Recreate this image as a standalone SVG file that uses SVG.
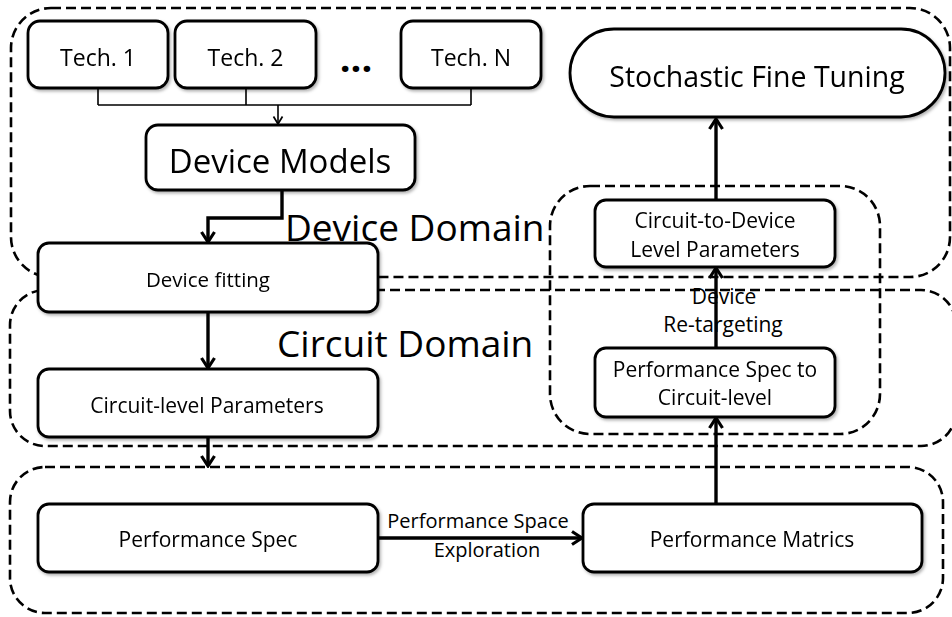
<svg xmlns="http://www.w3.org/2000/svg" width="952" height="617" viewBox="0 0 952 617">
  <style>
    .domain { fill: none; stroke: #000; stroke-width: 2.6; stroke-dasharray: 10 5; }
    .box { fill: #fff; stroke: #000; stroke-width: 2.8; }
    .t { font-family: "Open Sans", "Liberation Sans", sans-serif; fill: #000; text-anchor: middle; }
    .big { font-family: "Open Sans", "Liberation Sans", sans-serif; fill: #000; font-size: 37px; }
    .wire { fill: none; stroke: #000; stroke-width: 1.6; }
    .flow { fill: none; stroke: #000; stroke-width: 3.4; marker-end: url(#head); }
  </style>
  <defs>
    <filter id="shadow" x="-10%" y="-10%" width="125%" height="130%">
      <feDropShadow dx="1.5" dy="2" stdDeviation="1.4" flood-color="#000" flood-opacity="0.3"/>
    </filter>
    <marker id="head" viewBox="0 0 14 16" refX="12" refY="8" markerWidth="14" markerHeight="16" markerUnits="userSpaceOnUse" orient="auto">
      <path d="M2,1.5 L12,8 L2,14.5" fill="none" stroke="#000" stroke-width="3.2" stroke-linejoin="miter"/>
    </marker>
    <marker id="headSmall" viewBox="0 0 10 12" refX="9" refY="6" markerWidth="10" markerHeight="12" markerUnits="userSpaceOnUse" orient="auto">
      <path d="M1.5,1.5 L9,6 L1.5,10.5" fill="none" stroke="#000" stroke-width="1.7"/>
    </marker>
  </defs>

  <rect width="952" height="617" fill="#fff"/>

  <!-- domain frames -->
  <g id="domains">
    <rect class="domain" x="11" y="8" width="939" height="269" rx="40"/>
    <rect class="domain" x="10" y="290" width="946" height="156" rx="35"/>
    <rect class="domain" x="10" y="467" width="933" height="146" rx="35"/>
    <rect class="domain" x="550" y="186" width="330" height="248" rx="40"/>
  </g>

  <!-- domain titles -->
  <text class="big" x="285" y="241">Device Domain</text>
  <text class="big" x="277" y="357">Circuit Domain</text>

  <!-- connectors -->
  <g id="connectors">
    <path class="wire" d="M98,88 V105 M246,88 V105 M471,88 V105 M98,105 H471"/>
    <path class="wire" d="M278,105 V124" marker-end="url(#headSmall)"/>
    <path class="flow" d="M282,190 V218 H208 V242"/>
    <path class="flow" d="M208,312 V368"/>
    <path class="flow" d="M208,437 V466"/>
    <path class="flow" d="M378,538 H582"/>
    <path class="flow" d="M716,504 V418"/>
    <path class="flow" d="M716,348 V268"/>
    <path class="flow" d="M716,200 V119"/>
  </g>

  <!-- nodes -->
  <g id="tech1" filter="url(#shadow)">
    <rect class="box" x="28" y="21" width="140" height="67" rx="12"/>
    <text class="t" x="98" y="66" font-size="23">Tech. 1</text>
  </g>
  <g id="tech2" filter="url(#shadow)">
    <rect class="box" x="175" y="21" width="141" height="67" rx="12"/>
    <text class="t" x="245.5" y="66" font-size="23">Tech. 2</text>
  </g>
  <g id="ellipsis">
    <text class="t" x="356" y="72" font-size="38" font-weight="bold">...</text>
  </g>
  <g id="techN" filter="url(#shadow)">
    <rect class="box" x="401" y="21" width="140" height="67" rx="12"/>
    <text class="t" x="471" y="66" font-size="23">Tech. N</text>
  </g>
  <g id="device-models" filter="url(#shadow)">
    <rect class="box" x="146" y="125" width="269" height="65" rx="12"/>
    <text class="t" x="280" y="173" font-size="33">Device Models</text>
  </g>
  <g id="device-fitting" filter="url(#shadow)">
    <rect class="box" x="38" y="243" width="340" height="69" rx="11"/>
    <text class="t" x="208" y="287" font-size="20.5">Device fitting</text>
  </g>
  <g id="circuit-params" filter="url(#shadow)">
    <rect class="box" x="38" y="369" width="340" height="68" rx="11"/>
    <text class="t" x="207" y="413" font-size="21">Circuit-level Parameters</text>
  </g>
  <g id="perf-spec" filter="url(#shadow)">
    <rect class="box" x="38" y="504" width="340" height="68" rx="11"/>
    <text class="t" x="208" y="547" font-size="21">Performance Spec</text>
  </g>
  <g id="perf-matrics" filter="url(#shadow)">
    <rect class="box" x="583" y="504" width="339" height="68" rx="11"/>
    <text class="t" x="752" y="547" font-size="21">Performance Matrics</text>
  </g>
  <g id="spec-to-circuit" filter="url(#shadow)">
    <rect class="box" x="595" y="348" width="240" height="69" rx="11"/>
    <text class="t" x="715" y="377" font-size="21">Performance Spec to</text>
    <text class="t" x="715" y="405" font-size="21">Circuit-level</text>
  </g>
  <g id="circuit-to-device" filter="url(#shadow)">
    <rect class="box" x="595" y="200" width="240" height="67" rx="11"/>
    <text class="t" x="715" y="228" font-size="21">Circuit-to-Device</text>
    <text class="t" x="715" y="257" font-size="21">Level Parameters</text>
  </g>
  <g id="stochastic" filter="url(#shadow)">
    <rect class="box" x="570" y="29" width="375" height="88" rx="44" stroke-width="3.4"/>
    <text class="t" x="757" y="87" font-size="28.5">Stochastic Fine Tuning</text>
  </g>

  <!-- connector labels -->
  <g id="labels">
    <text class="t" x="478" y="528" font-size="20">Performance Space</text>
    <text class="t" x="487" y="557" font-size="20">Exploration</text>
    <text class="t" x="724" y="304" font-size="21">Device</text>
    <text class="t" x="723" y="332" font-size="21">Re-targeting</text>
  </g>
</svg>
